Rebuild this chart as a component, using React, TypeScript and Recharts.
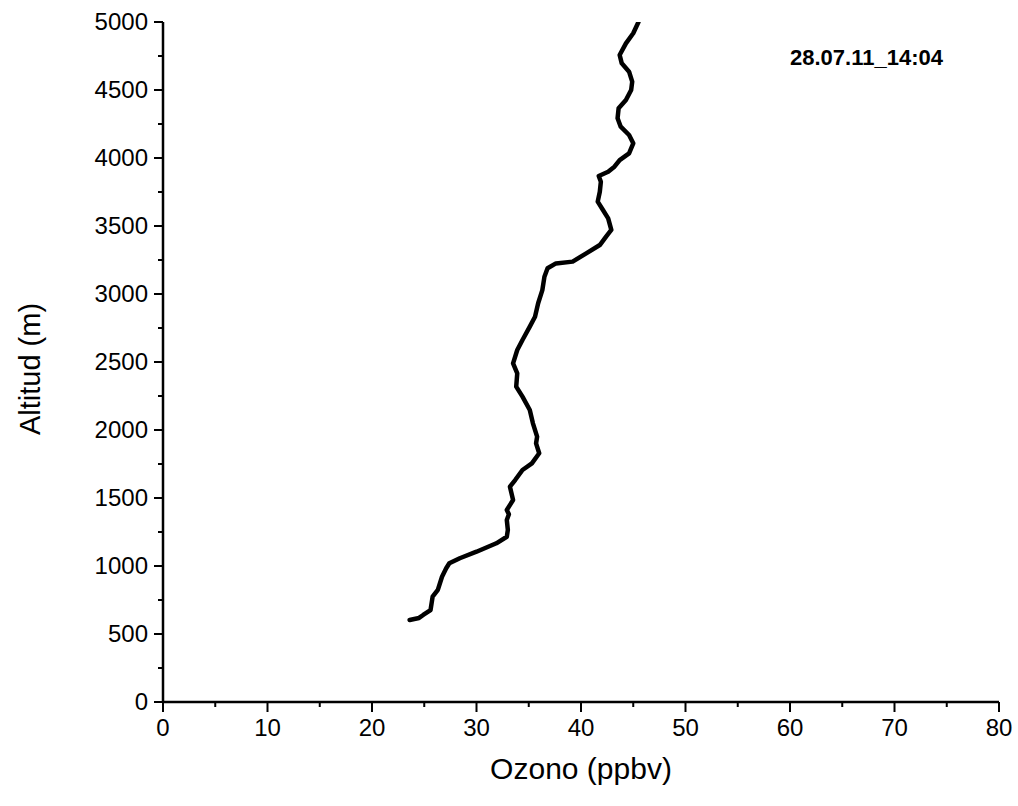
import React from "react";
import { ScatterChart, Scatter, XAxis, YAxis } from "recharts";

// perfil de ozono (ppbv vs m)
const ozone = [
  23.6, 24.5, 24.9, 25.6, 25.8, 26.3, 26.7, 27.1, 27.4, 28.4, 30.0, 31.9, 32.9, 33.0, 32.9,
  33.1, 32.9, 33.5, 33.2, 33.7, 34.4, 35.3, 36.0, 35.7, 35.8, 35.4, 35.1, 34.4, 33.8, 33.9,
  33.5, 33.9, 34.4, 35.1, 35.6, 35.9, 36.3, 36.5, 36.8, 37.6, 39.2, 40.5, 41.8, 42.4, 42.9,
  42.6, 42.1, 41.6, 41.8, 41.9, 41.7, 42.6, 43.2, 43.7, 44.6, 45.0, 44.6, 43.8, 43.5, 43.6,
  44.3, 44.8, 44.9, 44.6, 43.9, 43.7, 44.3, 45.0, 45.5,
];
const altitude = [
  603, 618, 640, 676, 774, 824, 921, 983, 1020, 1057, 1105, 1167, 1215, 1265, 1338,
  1380, 1412, 1485, 1583, 1632, 1706, 1755, 1829, 1902, 1951, 2049, 2147, 2245, 2319, 2417,
  2490, 2588, 2662, 2760, 2833, 2932, 3029, 3127, 3189, 3225, 3238, 3299, 3360, 3422, 3471,
  3556, 3618, 3679, 3752, 3826, 3868, 3899, 3936, 3985, 4034, 4108, 4169, 4230, 4292, 4365,
  4426, 4500, 4561, 4635, 4696, 4757, 4843, 4917, 5000,
];
const xTicks = [0, 5, 10, 15, 20, 25, 30, 35, 40, 45, 50, 55, 60, 65, 70, 75, 80];
const yTicks = [
  0, 250, 500, 750, 1000, 1250, 1500, 1750, 2000, 2250, 2500, 2750, 3000, 3250, 3500, 3750,
  4000, 4250, 4500, 4750, 5000,
];
const stamp = "28.07.11_14:04";

const data = ozone.map((o, i) => ({ ozone: o, alt: altitude[i] }));

const FONT = "'Liberation Sans', Arial, sans-serif";

function YTick({ x, y, payload }: any) {
  const major = payload.value % 500 === 0;
  return (
    <g>
      <line x1={x - (major ? 9 : 5)} x2={x} y1={y} y2={y} stroke="#000" strokeWidth={2} />
      {major && (
        <text x={x - 15} y={y} dy={8} textAnchor="end" fontSize={24} fontFamily={FONT} fill="#000">
          {payload.value}
        </text>
      )}
    </g>
  );
}

function XTick({ x, y, payload }: any) {
  const major = payload.value % 10 === 0;
  return (
    <g>
      <line x1={x} x2={x} y1={y} y2={y + (major ? 10 : 5)} stroke="#000" strokeWidth={2} />
      {major && (
        <text x={x} y={y + 34} textAnchor="middle" fontSize={24} fontFamily={FONT} fill="#000">
          {payload.value}
        </text>
      )}
    </g>
  );
}

export default function App() {
  return (
    <div style={{ position: "absolute", left: 0, top: 0, background: "#fff" }}>
      <ScatterChart width={1018} height={806} margin={{ top: 22, right: 19, bottom: 0, left: 0 }}>
        <XAxis
          type="number"
          dataKey="ozone"
          domain={[0, 80]}
          ticks={xTicks}
          interval={0}
          height={104}
          tickSize={0}
          tickMargin={0}
          tickLine={false}
          tick={<XTick />}
          axisLine={{ stroke: "#000", strokeWidth: 2.5 }}
          allowDataOverflow
          label={{
            content: ({ viewBox }: any) => (
              <text
                x={viewBox.x + viewBox.width / 2}
                y={viewBox.y + 77}
                textAnchor="middle"
                fontSize={30}
                fontFamily={FONT}
                fill="#000"
              >
                Ozono (ppbv)
              </text>
            ),
          }}
        />
        <XAxis
          xAxisId="top"
          orientation="top"
          type="number"
          domain={[0, 80]}
          height={0}
          tick={false}
          tickLine={false}
          axisLine={{ stroke: "#000", strokeWidth: 2.5 }}
        />
        <YAxis
          type="number"
          dataKey="alt"
          domain={[0, 5000]}
          ticks={yTicks}
          interval={0}
          width={163}
          tickSize={0}
          tickMargin={0}
          tickLine={false}
          tick={<YTick />}
          axisLine={{ stroke: "#000", strokeWidth: 2.5 }}
          allowDataOverflow
          label={{
            content: ({ viewBox }: any) => {
              const lx = viewBox.x + 40;
              const ly = viewBox.y + viewBox.height / 2 + 7;
              return (
                <text
                  x={lx}
                  y={ly}
                  transform={`rotate(-90, ${lx}, ${ly})`}
                  textAnchor="middle"
                  fontSize={29}
                  fontFamily={FONT}
                  fill="#000"
                >
                  Altitud (m)
                </text>
              );
            },
          }}
        />
        <YAxis
          yAxisId="right"
          orientation="right"
          type="number"
          domain={[0, 5000]}
          width={0}
          tick={false}
          tickLine={false}
          axisLine={{ stroke: "#000", strokeWidth: 2.5 }}
        />
        <Scatter
          data={data}
          line={{ stroke: "#000", strokeWidth: 4.5, strokeLinejoin: "round", strokeLinecap: "round" }}
          shape={() => <g />}
          isAnimationActive={false}
        />
      </ScatterChart>
      <div
        style={{
          position: "absolute",
          left: 790,
          top: 45,
          fontFamily: FONT,
          fontWeight: "bold",
          fontSize: 22,
          color: "#000",
        }}
      >
        {stamp}
      </div>
    </div>
  );
}
